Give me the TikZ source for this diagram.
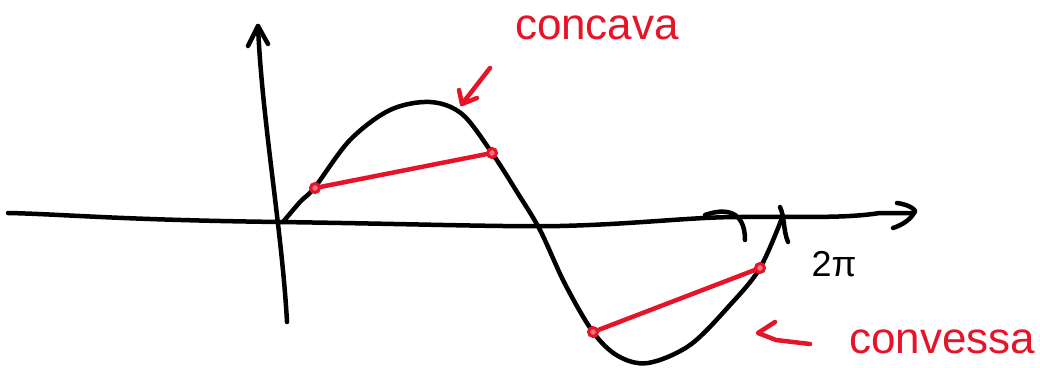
\documentclass[tikz,border=0pt]{standalone}
\usepackage{fontspec}
\setmainfont{Liberation Sans}
\begin{document}
\begin{tikzpicture}[x=1pt,y=-1pt,
  ink/.style={line width=4.5pt,line cap=round,line join=round,black},
  redink/.style={line width=4.5pt,line cap=round,line join=round,draw=penred},
  dotmark/.style={circle,draw=penred,line width=3pt,fill=penred!60,minimum size=9pt,inner sep=0pt},
  lbl/.style={text=penred,font=\fontsize{44}{46}\selectfont,inner sep=0pt}]
\definecolor{penred}{RGB}{230,20,40}
\useasboundingbox (0,0) rectangle (1040,367);
% x axis
\coordinate (xs) at (8,213);
\coordinate (xe) at (914,213);
\draw[ink] (xs) .. controls (60,214) and (120,220) .. (280,222)
  .. controls (420,224) and (500,227) .. (560,226)
  .. controls (640,224) and (690,217) .. (740,217)
  .. controls (800,216) and (840,219) .. (880,213) -- (xe);
\draw[ink] (897,203) .. controls (912,205) and (918,212) .. (xe) .. controls (910,220) and (902,225) .. (893,228);
% marks on x axis
\draw[ink] (705,215) .. controls (725,208) and (745,210) .. (745,240);
\draw[ink] (780,207) .. controls (785,218) and (783,230) .. (788,242);
% y axis
\coordinate (ys) at (287,322);
\coordinate (ye) at (258,26);
\draw[ink] (ys) .. controls (282,230) and (262,120) .. (ye);
\draw[ink] (248,46) -- (ye) -- (268,44);
% curve
\draw[ink] plot[smooth,tension=0.55] coordinates {(283,222) (300,202) (315,187) (350,140) (390,110) (430,102) (462,114) (492,153) (517,192) (540,230) (565,284) (593,332) (618,356) (648,363) (690,345) (730,305) (760,268) (782,218)};
% chords
\node[dotmark] (a1) at (315,188) {};
\node[dotmark] (a2) at (492,153) {};
\node[dotmark] (b1) at (593,332) {};
\node[dotmark] (b2) at (760,268) {};
\draw[redink] (a1) -- (a2);
\draw[redink] (b1) -- (b2);
% labels
\node[lbl] (conc) at (597,28) {concava};
\node[lbl] (conv) at (942,342) {convessa};
\node[font=\fontsize{36}{38}\selectfont,inner sep=0pt] (tp) at (834,264) {2π};
% red arrows
\coordinate (t1) at (462,104);
\coordinate (t1s) at (490,68);
\draw[redink] (t1s) -- (t1);
\draw[redink] (459,90) -- (t1) -- (477,98);
\coordinate (t2) at (758,333);
\draw[redink] (810,344) -- (776,340) -- (t2) -- (775,322);
\end{tikzpicture}
\end{document}
